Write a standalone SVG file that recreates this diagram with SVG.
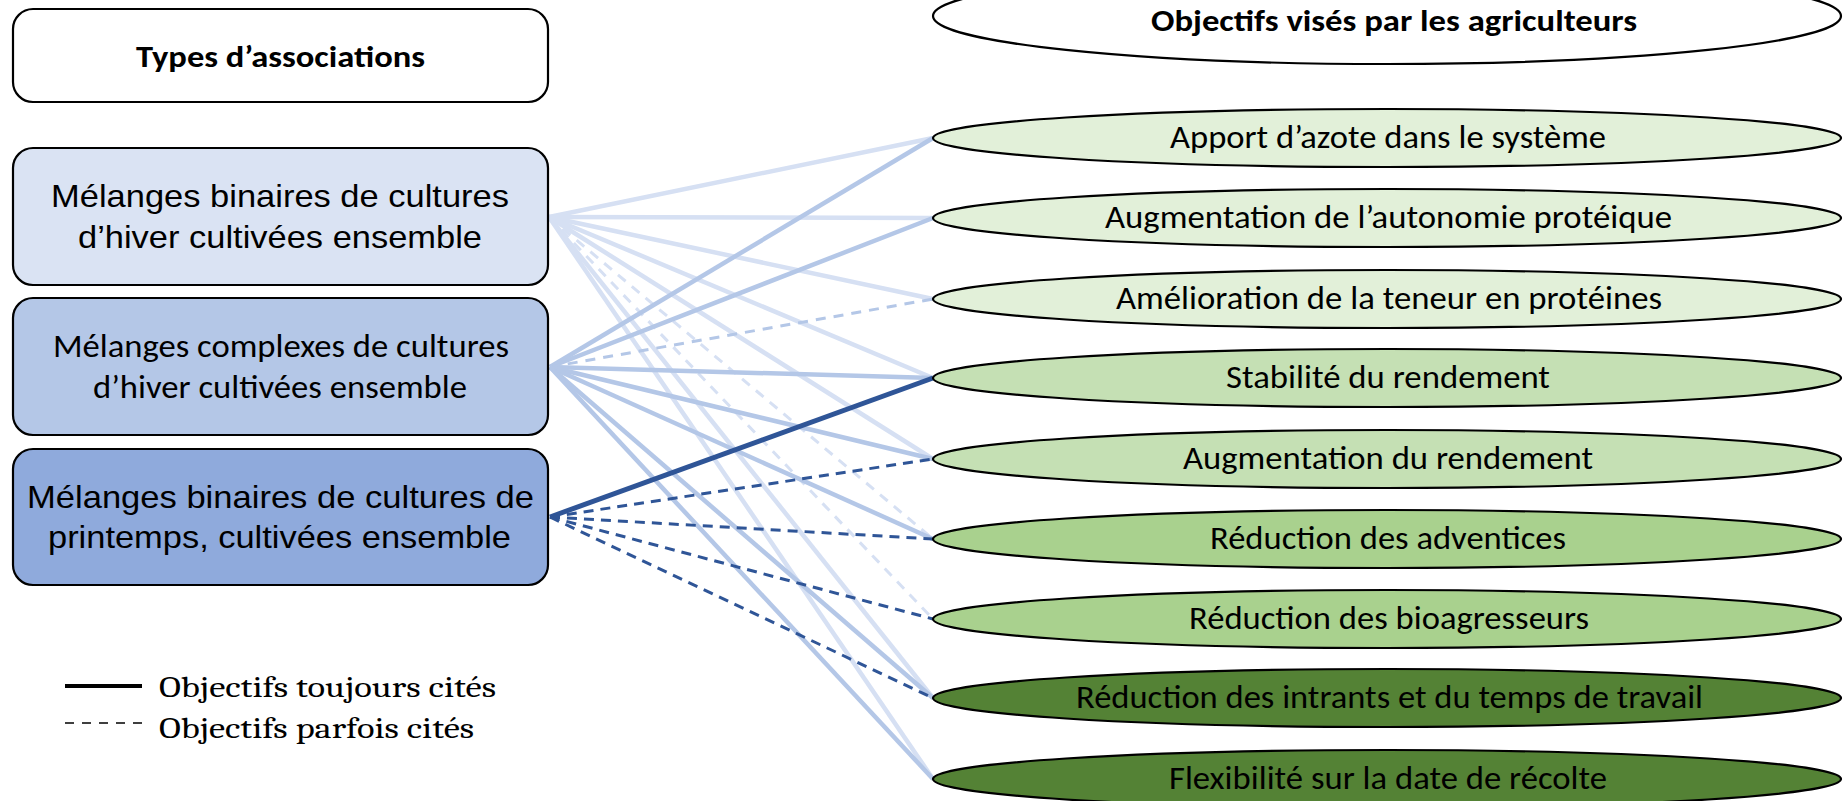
<svg xmlns="http://www.w3.org/2000/svg" width="1843" height="801" viewBox="0 0 1843 801">
<style>
  .box { stroke: #000; stroke-width: 2.2; }
  .ell { stroke: #000; stroke-width: 2.2; }
  .arial { font-family: "Liberation Sans", Arial, sans-serif; font-size: 32px; fill: #000; }
  .cal { font-family: Carlito, Calibri, Lato, "Open Sans", sans-serif; font-size: 32px; fill: #000; }
  .calb { font-family: Carlito, Calibri, Lato, "Open Sans", sans-serif; font-size: 31px; font-weight: bold; fill: #000; }
  .serif { font-family: Caladea, Cambria, "Liberation Serif", serif; font-size: 30px; fill: #000; }
  .c1 { stroke: #D6E0F3; stroke-width: 4.5; fill: none; }
  .c1d { stroke: #D6E0F3; stroke-width: 3; fill: none; stroke-dasharray: 10 8; }
  .c2 { stroke: #B4C7E7; stroke-width: 4.5; fill: none; }
  .c2d { stroke: #B4C7E7; stroke-width: 3; fill: none; stroke-dasharray: 10 8; }
  .c3 { stroke: #2F5597; stroke-width: 5; fill: none; }
  .c3d { stroke: #2F5597; stroke-width: 3; fill: none; stroke-dasharray: 10 7; }
</style>

<g id="connectors">
  <!-- from box 1 -->
  <line class="c1" x1="549" y1="217" x2="933" y2="138"/>
  <line class="c1" x1="549" y1="217" x2="933" y2="218"/>
  <line class="c1" x1="549" y1="217" x2="933" y2="299"/>
  <line class="c1" x1="549" y1="217" x2="933" y2="378"/>
  <line class="c1" x1="549" y1="217" x2="933" y2="459"/>
  <line class="c1d" x1="549" y1="217" x2="933" y2="539"/>
  <line class="c1d" x1="549" y1="217" x2="933" y2="619"/>
  <line class="c1" x1="549" y1="217" x2="933" y2="698"/>
  <line class="c1" x1="549" y1="217" x2="933" y2="779"/>
  <!-- from box 2 -->
  <line class="c2" x1="550" y1="367" x2="933" y2="138"/>
  <line class="c2" x1="550" y1="367" x2="933" y2="218"/>
  <line class="c2d" x1="550" y1="367" x2="933" y2="299"/>
  <line class="c2" x1="550" y1="367" x2="933" y2="378"/>
  <line class="c2" x1="550" y1="367" x2="933" y2="459"/>
  <line class="c2" x1="550" y1="367" x2="933" y2="539"/>
  <line class="c2" x1="550" y1="367" x2="933" y2="698"/>
  <line class="c2" x1="550" y1="367" x2="933" y2="779"/>
  <!-- from box 3 -->
  <line class="c3" x1="550" y1="517" x2="933" y2="378"/>
  <line class="c3d" x1="550" y1="517" x2="933" y2="459"/>
  <line class="c3d" x1="550" y1="517" x2="933" y2="539"/>
  <line class="c3d" x1="550" y1="517" x2="933" y2="619"/>
  <line class="c3d" x1="550" y1="517" x2="933" y2="698"/>
</g>

<g id="types-title">
  <rect class="box" x="13" y="9" width="535" height="93" rx="20" fill="#FFFFFF"/>
  <text class="calb" x="136" y="67" textLength="289" lengthAdjust="spacingAndGlyphs">Types d’associations</text>
</g>

<g id="box-binaires-hiver">
  <rect class="box" x="13" y="148" width="535" height="137" rx="20" fill="#DAE3F3"/>
  <text class="arial" x="51" y="207" textLength="458" lengthAdjust="spacingAndGlyphs">Mélanges binaires de cultures</text>
  <text class="arial" x="78" y="248" textLength="404" lengthAdjust="spacingAndGlyphs">d’hiver cultivées ensemble</text>
</g>

<g id="box-complexes-hiver">
  <rect class="box" x="13" y="298" width="535" height="137" rx="20" fill="#B4C7E7"/>
  <text class="cal" x="53" y="357" textLength="456" lengthAdjust="spacingAndGlyphs">Mélanges complexes de cultures</text>
  <text class="cal" x="93" y="398" textLength="374" lengthAdjust="spacingAndGlyphs">d’hiver cultivées ensemble</text>
</g>

<g id="box-binaires-printemps">
  <rect class="box" x="13" y="449" width="535" height="136" rx="20" fill="#8FAADC"/>
  <text class="arial" x="27" y="508" textLength="507" lengthAdjust="spacingAndGlyphs">Mélanges binaires de cultures de</text>
  <text class="arial" x="48" y="548" textLength="463" lengthAdjust="spacingAndGlyphs">printemps, cultivées ensemble</text>
</g>

<g id="objectifs-title">
  <ellipse class="ell" cx="1387" cy="16" rx="454" ry="48" fill="#FFFFFF"/>
  <text class="calb" x="1151" y="31" textLength="486" lengthAdjust="spacingAndGlyphs">Objectifs visés par les agriculteurs</text>
</g>

<g id="obj-azote">
  <ellipse class="ell" cx="1387" cy="138" rx="454" ry="29" fill="#E2F0D9"/>
  <text class="cal" x="1170" y="148" textLength="436" lengthAdjust="spacingAndGlyphs">Apport d’azote dans le système</text>
</g>
<g id="obj-autonomie">
  <ellipse class="ell" cx="1387" cy="218" rx="454" ry="29" fill="#E2F0D9"/>
  <text class="cal" x="1105" y="228" textLength="567" lengthAdjust="spacingAndGlyphs">Augmentation de l’autonomie protéique</text>
</g>
<g id="obj-teneur">
  <ellipse class="ell" cx="1387" cy="299" rx="454" ry="29" fill="#E2F0D9"/>
  <text class="cal" x="1116" y="309" textLength="546" lengthAdjust="spacingAndGlyphs">Amélioration de la teneur en protéines</text>
</g>
<g id="obj-stabilite">
  <ellipse class="ell" cx="1387" cy="378" rx="454" ry="29" fill="#C5E0B4"/>
  <text class="cal" x="1226" y="388" textLength="324" lengthAdjust="spacingAndGlyphs">Stabilité du rendement</text>
</g>
<g id="obj-augmentation">
  <ellipse class="ell" cx="1387" cy="459" rx="454" ry="29" fill="#C5E0B4"/>
  <text class="cal" x="1183" y="469" textLength="410" lengthAdjust="spacingAndGlyphs">Augmentation du rendement</text>
</g>
<g id="obj-adventices">
  <ellipse class="ell" cx="1387" cy="539" rx="454" ry="29" fill="#A9D18E"/>
  <text class="cal" x="1210" y="549" textLength="356" lengthAdjust="spacingAndGlyphs">Réduction des adventices</text>
</g>
<g id="obj-bioagresseurs">
  <ellipse class="ell" cx="1387" cy="619" rx="454" ry="29" fill="#A9D18E"/>
  <text class="cal" x="1189" y="629" textLength="400" lengthAdjust="spacingAndGlyphs">Réduction des bioagresseurs</text>
</g>
<g id="obj-intrants">
  <ellipse class="ell" cx="1387" cy="698" rx="454" ry="29" fill="#548235"/>
  <text class="cal" x="1076" y="708" textLength="627" lengthAdjust="spacingAndGlyphs">Réduction des intrants et du temps de travail</text>
</g>
<g id="obj-flexibilite">
  <ellipse class="ell" cx="1387" cy="779" rx="454" ry="29" fill="#548235"/>
  <text class="cal" x="1169" y="789" textLength="438" lengthAdjust="spacingAndGlyphs">Flexibilité sur la date de récolte</text>
</g>

<g id="legend">
  <line x1="65" y1="686" x2="142" y2="686" stroke="#000" stroke-width="4"/>
  <line x1="65" y1="723" x2="142" y2="723" stroke="#000" stroke-width="1.6" stroke-dasharray="9 8"/>
  <text class="serif" x="159" y="697" textLength="337" lengthAdjust="spacingAndGlyphs">Objectifs toujours cités</text>
  <text class="serif" x="159" y="738" textLength="315" lengthAdjust="spacingAndGlyphs">Objectifs parfois cités</text>
</g>
</svg>
